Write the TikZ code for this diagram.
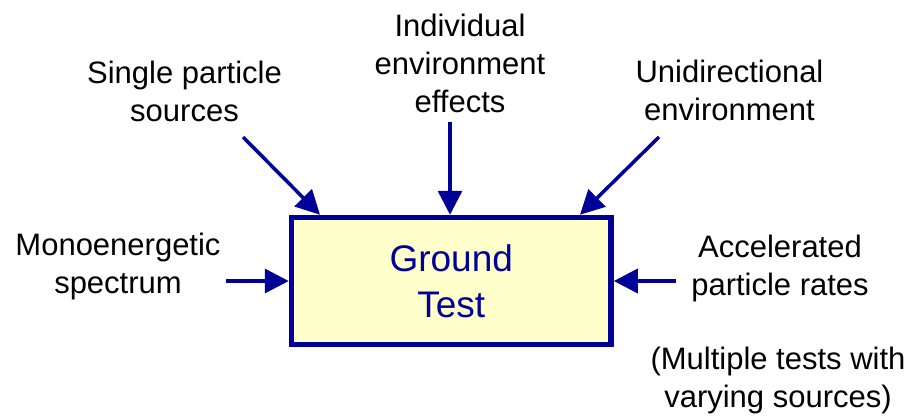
\documentclass[tikz,border=0pt]{standalone}
\usepackage{fontspec}
\setmainfont{Liberation Sans}
\usetikzlibrary{arrows.meta}
\definecolor{navy}{HTML}{000099}
\definecolor{paleyellow}{HTML}{FFFFCC}
\tikzset{
  % multi-line labels are anchored at the baseline of their last line
  label/.style={align=center, anchor=base, inner sep=0pt, text=black,
    font=\fontsize{31}{38}\selectfont},
  testbox/.style={draw=navy, fill=paleyellow, line width=5.5pt,
    minimum width=319.5pt, minimum height=127pt, inner sep=0pt,
    align=center, text=navy, font=\fontsize{37}{46}\selectfont},
  feed/.style={draw=navy, line width=3.5pt,
    -{Triangle[length=24pt,width=24pt]}}
}
\begin{document}
\begin{tikzpicture}[x=1pt,y=-1pt]
  \useasboundingbox (0,0) rectangle (915,418);

  % central box
  \node[testbox] (gt) at (451.25,281) {Ground\\Test};

  % input labels
  \node[label] (sps) at (184.5,121) {Single particle\\sources};
  \node[label] (iee) at (460,112) {Individual\\environment\\effects};
  \node[label] (ude) at (729.5,120) {Unidirectional\\environment};
  \node[label] (mes) at (118,293) {Monoenergetic\\spectrum};
  \node[label] (apr) at (780,295) {Accelerated\\particle rates};
  \node[label] (note) at (778,407) {(Multiple tests with\\varying sources)};

  % arrow start points
  \coordinate (sps-out) at (243,137);
  \coordinate (iee-out) at (450,122);
  \coordinate (ude-out) at (659,137);
  \coordinate (mes-out) at (226,281);
  \coordinate (apr-out) at (676,281);

  % arrows into the box
  \draw[feed] (sps-out) -- (gt.north -| 320,0);
  \draw[feed] (iee-out) -- (gt.north -| 450,0);
  \draw[feed] (ude-out) -- (gt.north -| 580,0);
  \draw[feed] (mes-out) -- (gt.west);
  \draw[feed] (apr-out) -- (gt.east);
\end{tikzpicture}
\end{document}
